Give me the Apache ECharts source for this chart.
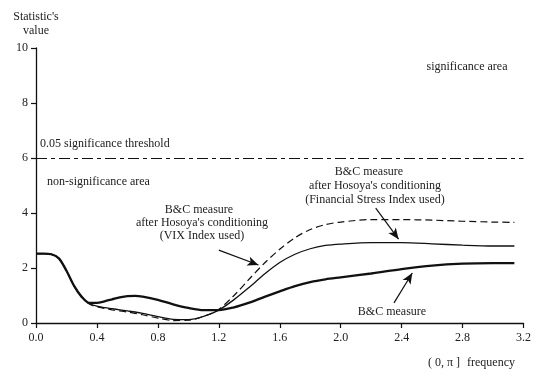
<!DOCTYPE html>
<html>
<head>
<meta charset="utf-8">
<script src="https://cdn.jsdelivr.net/npm/echarts@6/dist/echarts.min.js"></script>
<style>html,body{margin:0;padding:0;background:#fff}#c{width:534px;height:374px}</style>
</head>
<body>
<div id="c"></div>
<script>
const freq = [0, 0.05, 0.1, 0.15, 0.2, 0.25, 0.3, 0.35, 0.4, 0.45, 0.5, 0.55, 0.6, 0.65, 0.7, 0.8, 0.9, 1.0, 1.1, 1.2, 1.3, 1.4, 1.5, 1.6, 1.7, 1.8, 1.9, 2.0, 2.2, 2.4, 2.6, 2.8, 3.0, 3.14];
const bcMeasure = [2.52, 2.52, 2.5, 2.35, 1.9, 1.35, 0.95, 0.73, 0.73, 0.79, 0.86, 0.93, 0.98, 0.99, 0.96, 0.84, 0.68, 0.55, 0.47, 0.47, 0.57, 0.74, 0.95, 1.15, 1.34, 1.49, 1.59, 1.66, 1.8, 1.96, 2.09, 2.16, 2.18, 2.18];
const bcFSI = [2.52, 2.52, 2.5, 2.35, 1.9, 1.35, 0.95, 0.71, 0.61, 0.56, 0.52, 0.48, 0.44, 0.4, 0.35, 0.23, 0.13, 0.12, 0.24, 0.47, 0.85, 1.3, 1.78, 2.2, 2.5, 2.7, 2.82, 2.87, 2.92, 2.92, 2.88, 2.83, 2.8, 2.8];
const bcVIX = [2.52, 2.52, 2.5, 2.35, 1.9, 1.35, 0.95, 0.69, 0.59, 0.53, 0.48, 0.44, 0.4, 0.35, 0.3, 0.18, 0.09, 0.1, 0.24, 0.5, 1.0, 1.6, 2.18, 2.68, 3.1, 3.4, 3.58, 3.67, 3.76, 3.76, 3.74, 3.7, 3.67, 3.66];
const threshold = 6;
const yTicks = [0, 2, 4, 6, 8, 10];
const xTicks = [0.0, 0.4, 0.8, 1.2, 1.6, 2.0, 2.4, 2.8, 3.2];
const arrowVIX = [[1.2, 2.65], [1.46, 2.11]];
const arrowFSI = [[2.23, 4.18], [2.38, 3.05]];
const arrowBC = [[2.35, 0.73], [2.47, 1.82]];

const FONT = '"Liberation Serif", "DejaVu Serif", serif';
const TXT = '#222';
const zip = (xs, ys) => xs.map((x, i) => [x, ys[i]]);
const arrowData = (a) => [[{coord: a[0], symbol: 'none'}, {coord: a[1], symbol: 'arrow', symbolSize: [7, 11]}]];

const chart = echarts.init(document.getElementById('c'), null, {renderer: 'canvas'});
const txt = (x, y, s, align) => ({type: 'text', x: x, y: y, style: {text: s, font: '12px ' + FONT, fill: TXT, align: align || 'center', verticalAlign: 'middle'}});

chart.setOption({
  animation: false,
  backgroundColor: '#fff',
  grid: {left: 36, right: 8, top: 48, bottom: 51, containLabel: false},
  xAxis: {
    type: 'value', min: 0, max: 3.2, interval: 0.4,
    axisLine: {lineStyle: {color: '#111', width: 1.3}},
    axisTick: {length: 5, lineStyle: {color: '#111', width: 1.2}},
    axisLabel: {color: TXT, fontFamily: FONT, fontSize: 12, margin: 9, formatter: v => v.toFixed(1)},
    splitLine: {show: false}
  },
  yAxis: {
    type: 'value', min: 0, max: 10, interval: 2,
    axisLine: {show: true, lineStyle: {color: '#111', width: 1.3}},
    axisTick: {show: true, length: 5, lineStyle: {color: '#111', width: 1.2}},
    axisLabel: {color: TXT, fontFamily: FONT, fontSize: 12, margin: 8},
    splitLine: {show: false}
  },
  series: [
    {
      type: 'line', data: zip(freq, bcVIX), smooth: 0.3, symbol: 'none',
      lineStyle: {color: '#111', width: 1.2, type: [7, 4]},
      markLine: {silent: true, symbol: 'none', label: {show: false},
        lineStyle: {color: '#111', width: 1.2, type: [11, 4, 4, 4]},
        data: [{yAxis: threshold}]}
    },
    {
      type: 'line', data: zip(freq, bcFSI), smooth: 0.3, symbol: 'none',
      lineStyle: {color: '#111', width: 1.3},
      markLine: {silent: true, label: {show: false}, lineStyle: {color: '#111', width: 1.2, type: 'solid'},
        data: arrowData(arrowVIX).concat(arrowData(arrowFSI))}
    },
    {
      type: 'line', data: zip(freq, bcMeasure), smooth: 0.3, symbol: 'none',
      lineStyle: {color: '#111', width: 2.3},
      markLine: {silent: true, label: {show: false}, lineStyle: {color: '#111', width: 1.2, type: 'solid'},
        data: arrowData(arrowBC)}
    }
  ],
  graphic: [
    txt(36, 17, "Statistic's"),
    txt(36, 31, 'value'),
    txt(467, 67, 'significance area'),
    txt(40, 144, '0.05 significance threshold', 'left'),
    txt(47, 182, 'non-significance area', 'left'),
    txt(199, 210, 'B&C measure'),
    txt(202, 223, "after Hosoya's conditioning"),
    txt(202, 236, '(VIX Index used)'),
    txt(369, 172, 'B&C measure'),
    txt(375, 186, "after Hosoya's conditioning"),
    txt(375, 200, '(Financial Stress Index used)'),
    txt(392, 312, 'B&C measure'),
    txt(428, 363, '( 0, π ]', 'left'),
    txt(467, 363, 'frequency', 'left')
  ]
});
</script>
</body>
</html>
